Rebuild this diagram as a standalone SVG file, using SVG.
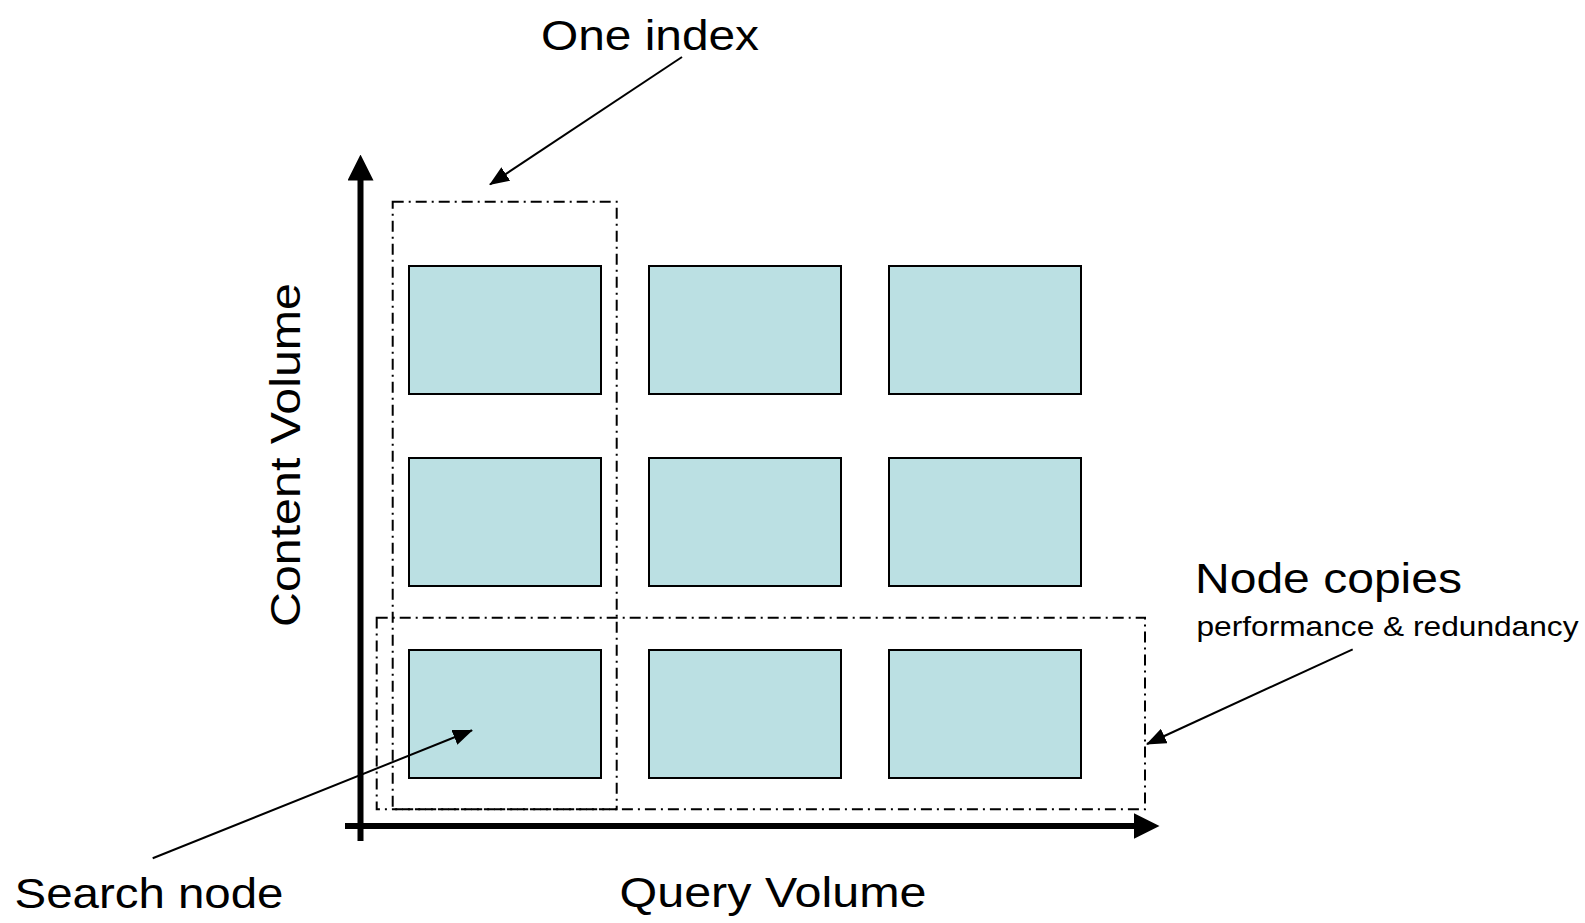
<svg xmlns="http://www.w3.org/2000/svg" width="1585" height="923" viewBox="0 0 1585 923">
<style>
.node{fill:#bbe0e3;stroke:#000;stroke-width:2}
.grp{fill:none;stroke:#000;stroke-width:2;stroke-dasharray:11 5 2 5}
.axis{fill:none;stroke:#000;stroke-width:6}
.ptr{fill:none;stroke:#000;stroke-width:2}
.lbl{font-family:"Liberation Sans",Arial,sans-serif;font-size:43px;fill:#000}
.sub{font-family:"Liberation Sans",Arial,sans-serif;font-size:27.5px;fill:#000}
</style>
<defs>
<marker id="ah" markerUnits="userSpaceOnUse" markerWidth="20" markerHeight="16" viewBox="0 0 20 16" refX="19" refY="8" orient="auto"><path d="M0,0 L20,8 L0,16 Z" fill="#000"/></marker>
<marker id="ax" markerUnits="userSpaceOnUse" markerWidth="26" markerHeight="26" viewBox="0 0 26 26" refX="0.5" refY="13" orient="auto"><path d="M0,0 L26,13 L0,26 Z" fill="#000"/></marker>
</defs>
<rect width="1585" height="923" fill="#fff"/>
<g id="groups">
<rect id="one-index" class="grp" x="392.7" y="201.7" width="224" height="607.5"/>
<rect id="node-copies-box" class="grp" x="376.7" y="617.7" width="768.3" height="191.6"/>
</g>
<g id="node-r1c1"><rect class="node" x="409" y="266" width="192" height="128"/></g>
<g id="node-r1c2"><rect class="node" x="649" y="266" width="192" height="128"/></g>
<g id="node-r1c3"><rect class="node" x="889" y="266" width="192" height="128"/></g>
<g id="node-r2c1"><rect class="node" x="409" y="458" width="192" height="128"/></g>
<g id="node-r2c2"><rect class="node" x="649" y="458" width="192" height="128"/></g>
<g id="node-r2c3"><rect class="node" x="889" y="458" width="192" height="128"/></g>
<g id="node-r3c1"><rect class="node" x="409" y="650" width="192" height="128"/></g>
<g id="node-r3c2"><rect class="node" x="649" y="650" width="192" height="128"/></g>
<g id="node-r3c3"><rect class="node" x="889" y="650" width="192" height="128"/></g>
<g id="connectors">
<line class="axis" x1="360.5" y1="841" x2="360.5" y2="180" marker-end="url(#ax)"/>
<line class="axis" x1="345" y1="826" x2="1134" y2="826" marker-end="url(#ax)"/>
<line class="ptr" x1="682" y1="57" x2="490" y2="184.5" marker-end="url(#ah)"/>
<line class="ptr" x1="1352.7" y1="649.3" x2="1147" y2="744" marker-end="url(#ah)"/>
<line class="ptr" x1="152.7" y1="858.3" x2="472" y2="730.3" marker-end="url(#ah)"/>
</g>
<g id="labels">
<text class="lbl" x="541" y="50" textLength="218" lengthAdjust="spacingAndGlyphs">One index</text>
<text class="lbl" x="1195" y="593" textLength="267" lengthAdjust="spacingAndGlyphs">Node copies</text>
<text class="sub" x="1196.5" y="636" textLength="382" lengthAdjust="spacingAndGlyphs">performance &amp; redundancy</text>
<text class="lbl" x="14.5" y="908" textLength="269" lengthAdjust="spacingAndGlyphs">Search node</text>
<text class="lbl" x="619.5" y="907" textLength="307" lengthAdjust="spacingAndGlyphs">Query Volume</text>
<text class="lbl" transform="translate(300,627) rotate(-90)" x="0" y="0" textLength="344" lengthAdjust="spacingAndGlyphs">Content Volume</text>
</g>
</svg>
